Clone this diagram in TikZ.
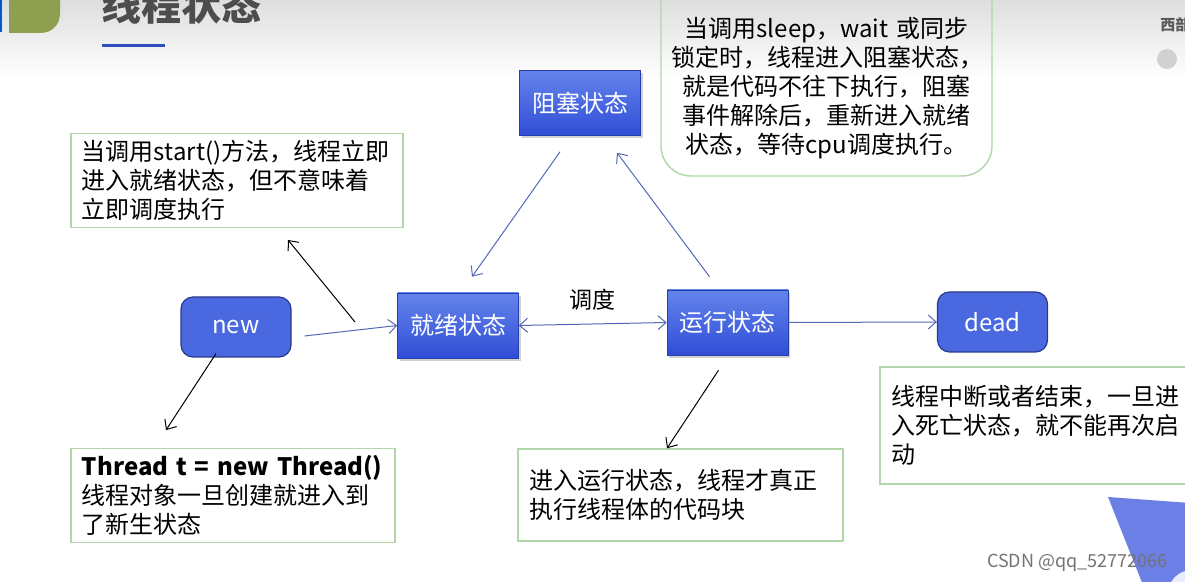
\documentclass[tikz,border=0pt]{standalone}
\usepackage{fontspec}
\setmainfont{Noto Sans CJK SC}
\usepackage{tikz}
\usetikzlibrary{
  arrows.meta,
  shadows
}
\definecolor{nodetop}{RGB}{100,132,236}
\definecolor{nodebot}{RGB}{48,78,214}
\definecolor{nodeflat}{RGB}{74,104,224}
\definecolor{nodeedge}{RGB}{40,58,140}
\definecolor{flowblue}{RGB}{84,104,184}
\definecolor{notegreen}{RGB}{176,214,170}
\definecolor{headgreen}{RGB}{142,160,80}
\definecolor{titlegray}{RGB}{77,77,77}
\definecolor{lineblue}{RGB}{47,79,192}
\definecolor{cornerblue}{RGB}{107,127,230}
\tikzset{
  >={Straight Barb[length=4pt,width=7pt]},
  line cap=round,
  line join=round,
  state/.style={top color=nodetop, bottom color=nodebot, draw=nodebot!80!black, line width=0.3pt,
    minimum width=60.5pt, minimum height=32.5pt, text=white, font=\fontsize{12}{14}\selectfont,
    drop shadow={opacity=0.35, shadow xshift=1pt, shadow yshift=-1.5pt}},
  endstate/.style={fill=nodeflat, draw=nodeedge, line width=0.6pt, rounded corners=6pt,
    minimum width=55pt, minimum height=30pt, text=white, font=\fontsize{12}{14}\selectfont},
  note/.style={draw=notegreen, line width=0.7pt, align=left, inner xsep=5.5pt,
    font=\fontsize{12}{14.5}\selectfont},
  flow/.style={->, draw=flowblue, line width=0.5pt},
  remark/.style={->, draw=black, line width=0.5pt}
}

\begin{document}
\begin{tikzpicture}[x=0.5pt, y=-0.5pt]
    \useasboundingbox (0,0) rectangle (1185,582);
    \fill[white] (0,0) rectangle (1185,582);

    % 页眉
    \shade[top color=black!13, bottom color=white] (0,0) rectangle (1185,78);
    \fill[blue!55!cyan!80!black] (0,0) rectangle (2,32);
    \fill[headgreen] (9,0) -- (9,33) -- (40,33) .. controls (52,33) and (60,25) .. (60,13) -- (60,0) -- cycle;
    \node (title) at (181,5) {\fontsize{20}{24}\bfseries\color{titlegray}线程状态};
    \draw[lineblue, line width=1.5pt] (102,46) -- (165,46);
    \node[anchor=west, text=black!65, font=\fontsize{7.5}{9}\bfseries, inner sep=0pt] (school) at (1160,25) {西部};
    \fill[black!18] (1167,59) circle (10);

    % 右下角
    \fill[cornerblue] (1108,497) -- (1190,503) -- (1190,590) -- (1145,590) -- cycle;
    \fill[blue!8] (1192,594) circle (24);

    % 状态
    \node[state] (blocked) at (580,103) {阻塞状态};
    \node[state] (ready) at (458,325.5) {就绪状态};
    \node[state] (running) at (727.5,322.5) {运行状态};
    \node[endstate] (new) at (236,327) {new};
    \node[endstate] (dead) at (992.5,322) {dead};

    % 说明
    \node[note, minimum width=166pt, minimum height=45.5pt, text width=155pt] (startnote) at (237,180.5)
      {当调用start()方法，线程立即\\进入就绪状态，但不意味着\\立即调度执行};
    \node[note, draw=none, align=center, text width=155pt] (blocknote) at (826.5,88.5)
      {当调用sleep，wait 或同步\\锁定时，线程进入阻塞状态，\\就是代码不往下执行，阻塞\\事件解除后，重新进入就绪\\状态，等待cpu调度执行。};
    \draw[notegreen, line width=0.7pt, rounded corners=15pt] (661,-30) rectangle (992,176);
    \node[note, minimum width=160pt, minimum height=58.5pt, text width=149pt] (deadnote) at (1040,425.5)
      {线程中断或者结束，一旦进\\入死亡状态，就不能再次启\\动};
    \node[note, minimum width=162.5pt, minimum height=46pt, text width=151.5pt] (runnote) at (680.5,495)
      {进入运行状态，线程才真正\\执行线程体的代码块};
    \node[note, minimum width=162pt, minimum height=45.5pt, text width=151pt] (newnote) at (233,495.5)
      {\textbf{Thread t = new Thread()}\\线程对象一旦创建就进入到\\了新生状态};

    % 状态转换
    \draw[flow] ([shift={(13,9)}]new.east) -- (ready.west);
    \draw[flow, <->] (ready.east) -- node (sched) [above=3pt, text=black, font=\fontsize{11.5}{14}\selectfont] {调度} (running.west);
    \draw[flow] (running.east) -- (dead.west);
    \draw[flow] ([shift={(-20,16)}]blocked.south) -- ([shift={(14,-16)}]ready.north);
    \draw[flow] ([shift={(-18,-13)}]running.north) -- ([shift={(37,17)}]blocked.south);

    % 说明箭头
    \coordinate (hint) at (355,322);
    \draw[remark] (hint) -- ([shift={(51,12)}]startnote.south);
    \draw[remark] ([shift={(-20,-4)}]new.south) -- ([shift={(-67,-18)}]newnote.north);
    \draw[remark] ([shift={(-9,15)}]running.south) -- ([shift={(-13.5,0)}]runnote.north);

    % 水印
    \node[anchor=east, text=black!55, font=\fontsize{9}{11}\selectfont, inner sep=0pt] (mark) at (1168,563) {CSDN @qq\_52772066};
\end{tikzpicture}
\end{document}
